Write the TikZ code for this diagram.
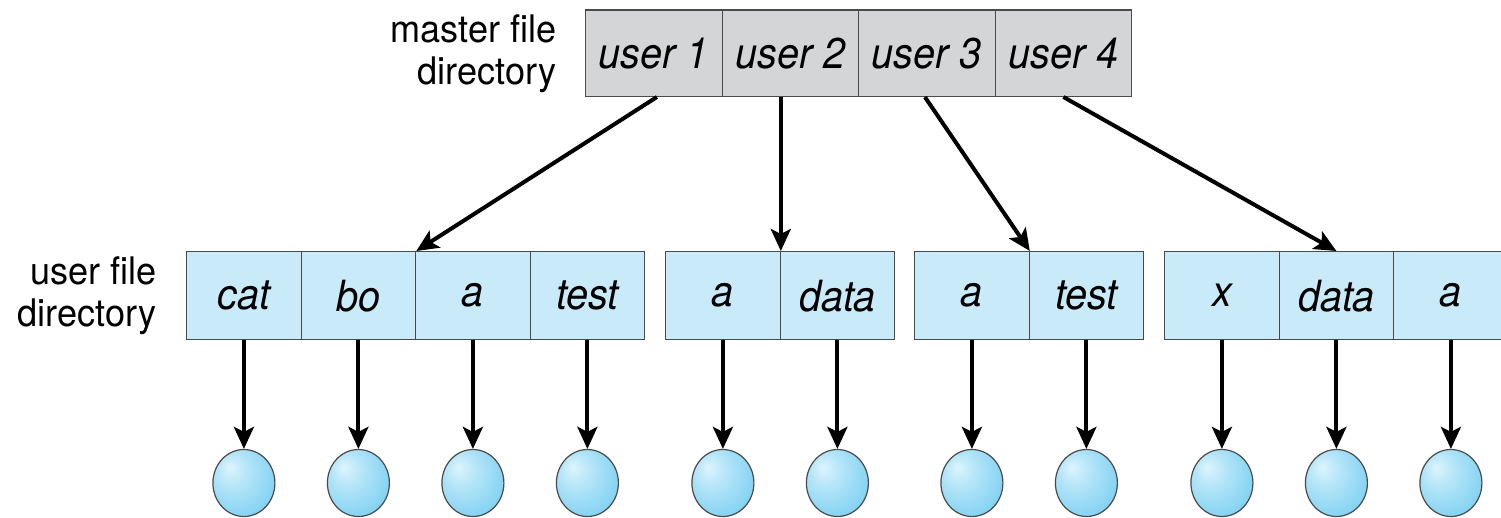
\documentclass[tikz,border=0pt]{standalone}
\usepackage{fontspec}
\setmainfont{TeX Gyre Heros}
\newfontfamily\cellfont[FakeStretch=0.92]{TeX Gyre Heros}
\newfontfamily\lblfont[FakeStretch=0.95]{TeX Gyre Heros}
\usetikzlibrary{arrows.meta,shapes.geometric}
\definecolor{mgray}{HTML}{D3D5D6}
\definecolor{ublue}{HTML}{C9EAF8}
\definecolor{bordc}{HTML}{4A4A4A}
\definecolor{ballin}{HTML}{DDF4FD}
\definecolor{ballout}{HTML}{5CC4EE}
\pgfdeclareradialshading{fileball}{\pgfpoint{-12bp}{12bp}}{color(0bp)=(ballin);color(12bp)=(ballin!70!ballout);color(40bp)=(ballout!85!ballin);color(62bp)=(ballout)}
\begin{document}
\begin{tikzpicture}[x=1pt,y=-1pt,
  cellbase/.style={draw=bordc, line width=1.3pt, inner sep=0pt, anchor=north west,
    font=\cellfont\itshape\fontsize{43}{47}\selectfont},
  mcell/.style={cellbase, fill=mgray, minimum width=136.5pt, minimum height=86.4pt},
  ucell/.style={cellbase, fill=ublue, minimum width=114.5pt, minimum height=88pt},
  file/.style={ellipse, draw=bordc, line width=1.2pt, minimum width=62pt, minimum height=67pt,
    inner sep=0pt, shading=fileball},
  arr/.style={line width=4pt, -{Stealth[length=22pt,width=20pt,inset=5pt]}},
  lbl/.style={align=right, anchor=east, font=\lblfont\fontsize{38}{42}\selectfont}]
\useasboundingbox (0,0) rectangle (1501,517);
\coordinate (fy) at (0,483);
% labels
\node[lbl] (mlabel) at (560,54) {master file\\directory};
\node[lbl] (ulabel) at (160,296) {user file\\directory};
% master file directory
\foreach \n/\x/\t in {m1/585/user 1, m2/721.5/user 2, m3/858/user 3, m4/994.5/user 4}
  \node[mcell] (\n) at (\x,9.3) {\t};
% user file directories
\foreach \n/\x/\t in {u11/186/cat, u12/300.5/bo, u13/415/a, u14/529.5/test,
                      u21/665/a, u22/779.5/data,
                      u31/914/a, u32/1028.5/test,
                      u41/1164/x, u42/1278.5/data, u43/1393/a}
  \node[ucell] (\n) at (\x,251) {\t};
% files
\foreach \n in {u11,u12,u13,u14,u21,u22,u31,u32,u41,u42,u43}{
  \node[file] (f\n) at (\n.south |- fy) {};
  \draw[arr] (\n.south) -- (f\n.north);
}
% master to user directories
\draw[arr] ([xshift=3pt]m1.south) -- (u12.north east);
\draw[arr] (u21.north east |- m2.south) -- (u21.north east);
\draw[arr] ([xshift=-2pt]m3.south) -- (u31.north east);
\draw[arr] (m4.south) -- (u42.north);
\end{tikzpicture}
\end{document}
